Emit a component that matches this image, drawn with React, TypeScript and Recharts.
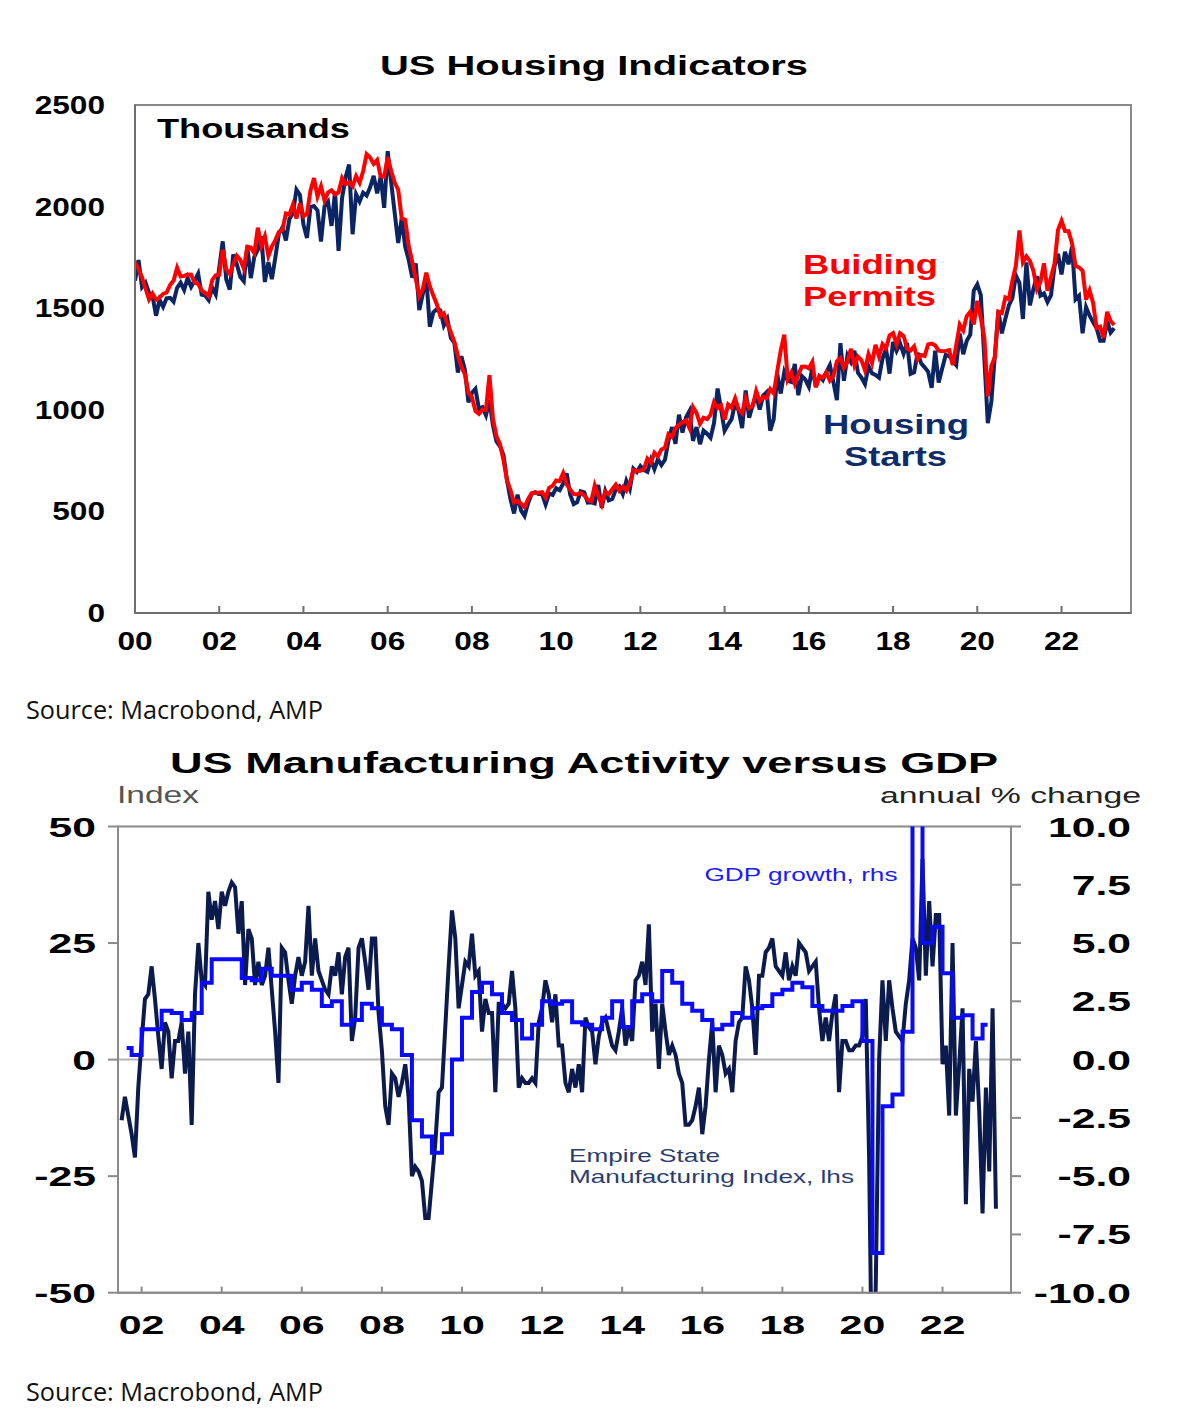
import React from "react";
import { LineChart, Line, XAxis, YAxis, ReferenceArea, ReferenceLine } from "recharts";

// ---- US Housing Indicators (monthly, Jan 2000 - Apr 2023, thousands) ----
const housingStart = 2000;
const housingStarts = [
  1636, 1737, 1604, 1626, 1575, 1559, 1463, 1541, 1507, 1549, 1551, 1532,
  1600, 1625, 1590, 1649, 1605, 1636, 1670, 1567, 1562, 1540, 1602, 1568,
  1698, 1829, 1642, 1592, 1764, 1717, 1655, 1633, 1804, 1648, 1753, 1788,
  1853, 1629, 1726, 1643, 1751, 1867, 1897, 1833, 1939, 1967, 2083, 2057,
  1911, 1846, 1998, 2003, 1981, 1828, 2002, 2024, 1905, 2072, 1782, 2042,
  2144, 2207, 1864, 2061, 2025, 2068, 2054, 2095, 2151, 2065, 2147, 1994,
  2273, 2119, 1969, 1821, 1942, 1802, 1737, 1650, 1720, 1491, 1570, 1649,
  1409, 1480, 1495, 1490, 1415, 1448, 1354, 1330, 1183, 1264, 1197, 1037,
  1084, 1103, 1005, 1013, 973, 1046, 923, 844, 820, 777, 652, 560,
  490, 582, 505, 478, 540, 585, 594, 586, 585, 534, 588, 581,
  614, 604, 636, 687, 583, 536, 546, 599, 594, 543, 545, 539,
  630, 517, 600, 554, 561, 608, 623, 585, 650, 610, 711, 694,
  723, 704, 695, 753, 708, 757, 728, 754, 847, 915, 833, 976,
  888, 962, 994, 847, 915, 831, 898, 883, 863, 936, 1105, 1003,
  897, 928, 954, 1034, 996, 910, 1095, 961, 1022, 1073, 1001, 1070,
  1087, 897, 954, 1177, 1080, 1185, 1142, 1137, 1226, 1072, 1166, 1149,
  1114, 1208, 1113, 1165, 1146, 1186, 1220, 1136, 1048, 1328, 1143, 1268,
  1236, 1290, 1182, 1158, 1127, 1215, 1180, 1172, 1158, 1252, 1299, 1178,
  1334, 1290, 1327, 1276, 1329, 1177, 1184, 1280, 1229, 1209, 1187, 1108,
  1291, 1134, 1203, 1270, 1265, 1241, 1220, 1375, 1274, 1340, 1370, 1587,
  1617, 1564, 1256, 934, 1038, 1265, 1487, 1376, 1448, 1514, 1551, 1661,
  1625, 1447, 1725, 1514, 1594, 1657, 1562, 1573, 1530, 1563, 1706, 1768,
  1666, 1777, 1716, 1803, 1543, 1561, 1377, 1505, 1463, 1432, 1401, 1340,
  1340, 1436, 1380, 1401,
];
const buildingPermits = [
  1727, 1692, 1651, 1597, 1543, 1572, 1542, 1552, 1570, 1577, 1614, 1636,
  1699, 1656, 1659, 1666, 1665, 1626, 1620, 1588, 1576, 1559, 1638, 1662,
  1665, 1787, 1691, 1669, 1716, 1758, 1738, 1695, 1803, 1799, 1771, 1896,
  1808, 1854, 1757, 1803, 1835, 1875, 1885, 1966, 1961, 2010, 1941, 2016,
  1953, 1963, 2080, 2140, 2050, 2100, 2030, 2070, 2080, 2060, 2070, 2140,
  2110, 2120, 2100, 2150, 2117, 2174, 2258, 2242, 2211, 2230, 2149, 2147,
  2243, 2175, 2118, 2082, 1942, 1935, 1805, 1729, 1644, 1559, 1594, 1675,
  1608, 1562, 1520, 1462, 1474, 1423, 1381, 1334, 1266, 1212, 1175, 1084,
  1062, 995, 980, 1001, 1000, 1171, 955, 869, 831, 752, 653, 604,
  544, 552, 538, 521, 560, 589, 593, 592, 595, 568, 616, 626,
  652, 649, 688, 633, 608, 586, 583, 591, 579, 557, 550, 627,
  578, 534, 597, 585, 609, 632, 601, 621, 602, 640, 703, 698,
  700, 708, 759, 739, 789, 771, 805, 813, 880, 867, 910, 926,
  939, 948, 910, 1013, 985, 931, 961, 954, 975, 1038, 1009, 1022,
  952, 1026, 1010, 1056, 1001, 983, 1057, 1008, 1018, 1093, 1043, 1063,
  1058, 1102, 1081, 1190, 1292, 1370, 1150, 1183, 1128, 1173, 1212, 1213,
  1204, 1236, 1111, 1166, 1158, 1184, 1144, 1167, 1239, 1255, 1207, 1236,
  1300, 1219, 1262, 1244, 1194, 1274, 1230, 1320, 1262, 1323, 1303, 1366,
  1377, 1323, 1377, 1364, 1301, 1292, 1312, 1249, 1270, 1265, 1322, 1326,
  1317, 1291, 1288, 1290, 1294, 1220, 1317, 1419, 1391, 1461, 1482, 1420,
  1536, 1452, 1356, 1066, 1216, 1258, 1483, 1476, 1553, 1545, 1635, 1709,
  1883, 1726, 1755, 1733, 1683, 1594, 1630, 1721, 1586, 1653, 1717, 1885,
  1930, 1880, 1879, 1819, 1708, 1701, 1685, 1542, 1588, 1526, 1402, 1409,
  1354, 1482, 1437, 1417,
];
const housingXTicks = [2000, 2002, 2004, 2006, 2008, 2010, 2012, 2014, 2016, 2018, 2020, 2022];
const housingYTicks = [0, 500, 1000, 1500, 2000, 2500];

// ---- US Manufacturing Activity versus GDP ----
// Empire State index, monthly from Jul 2001 to May 2023
const empireStart = 2001.5;
const empireIndex = [
  -13, -8, -12, -16, -21, -6,
  4, 13, 14, 20, 13, 5, -2, 8, 6, -4, 4, 4,
  8, -3, 6, -14, 14, 25, 17, 16, 36, 30, 34, 28,
  36, 33, 36, 38, 37, 27, 34, 16, 28, 26, 16, 21,
  16, 18, 24, 15, 6, -5, 24, 23, 17, 12, 18, 22,
  18, 21, 33, 18, 26, 19, 17, 15, 14, 20, 18, 23,
  14, 22, 24, 4, 9, 24, 26, 21, 15, 26, 26, 10,
  2, -10, -14, -3, -4, -8, -5, -1, -8, -25, -23, -24,
  -26, -34, -34, -26, -18, -7, -6, 7, 20, 32, 26, 11,
  16, 21, 20, 27, 18, 19, 6, 13, 10, 10, -7, 12,
  12, 11, 12, 19, 11, -6, -4, -5, -5, -4, -5, 8,
  11, 17, 14, 8, 14, 3, 3, -5, -7, -2, -6, -1,
  -7, 9, 7, 6, -1, 5, 8, 9, 6, 3, 2, 6,
  11, 3, 7, 4, 17, 18, 21, 16, 29, 6, 12, -2,
  12, 6, 1, 3, 1, -3, -5, -14, -14, -13, -10, -6,
  -16, -10, 0, 8, -7, 3, 1, -3, -2, -7, 4, 8,
  9, 20, 17, 11, 1, 18, 18, 23, 24, 26, 20, 19,
  18, 23, 17, 20, 18, 25, 24, 23, 19, 20, 21, 11,
  4, 9, 4, 10, 14, -7, 4, 4, 2, 2, 3, 3,
  5, 13, -21, -78, -48, 0, 17, 4, 17, 11, 6, 5,
  4, 12, 17, 26, 24, 17, 43, 18, 34, 20, 31, 31,
  -1, 3, -12, 25, -12, -1, 11, -31, -2, -9, 4, -11,
  -33, -6, -24, 11, -32,
];
// Real GDP, annual % change, quarterly from 2001 Q3 to 2023 Q1
const gdpStart = 2001.5;
const gdpGrowth = [
  0.5, 0.2,
  1.3, 1.3, 2.1, 2.0,
  1.7, 2.0, 3.3, 4.3,
  4.3, 4.3, 3.5, 3.4,
  3.9, 3.6, 3.6, 3.0,
  3.3, 3.0, 2.3, 2.5,
  1.5, 1.7, 2.4, 2.2,
  1.5, 1.3, 0.2, -2.6,
  -3.3, -4.0, -3.2, 0.0,
  1.8, 2.9, 3.3, 2.8,
  2.0, 1.7, 0.9, 1.5,
  2.5, 2.4, 2.5, 1.6,
  1.5, 1.3, 1.8, 2.5,
  1.4, 2.5, 2.8, 2.5,
  3.8, 3.3, 2.4, 2.1,
  1.7, 1.3, 1.5, 2.0,
  1.8, 2.2, 2.3, 2.8,
  3.0, 3.3, 3.1, 2.3,
  2.1, 2.1, 2.3, 2.5,
  0.8, -8.3, -2.0, -1.5,
  1.2, 12.0, 5.0, 5.7,
  3.7, 1.8, 1.9, 0.9,
  1.5,
];
const mfgXTicks = [2002, 2004, 2006, 2008, 2010, 2012, 2014, 2016, 2018, 2020, 2022];
const mfgLeftTicks = [-50, -25, 0, 25, 50];
const mfgRightTicks = [-10, -7.5, -5, -2.5, 0, 2.5, 5, 7.5, 10];

const housingData = housingStarts.map((v, i) => ({
  t: housingStart + i / 12,
  starts: v,
  permits: buildingPermits[i],
}));
const empireData = empireIndex.map((v, i) => ({ t: empireStart + i / 12, v }));
const gdpData = gdpGrowth.map((v, i) => ({ t: gdpStart + i * 0.25 + 0.125, v }));

const yearLabel = (t: number) => String(t % 100).padStart(2, "0");
const tickFont = "'Liberation Sans', Arial, sans-serif";
const frame = "#8a8a8a";

function Stretched({ x, y, text, size, sx, anchor }: any) {
  return (
    <text
      transform={`translate(${x},${y}) scale(${sx},1)`}
      textAnchor={anchor}
      fontFamily={tickFont}
      fontWeight="bold"
      fontSize={size}
      fill="#000"
    >
      {text}
    </text>
  );
}

const HousingYTick = (p: any) => (
  <Stretched x={p.x} y={p.y + 9} text={p.payload.value} size={25.5} sx={1.24} anchor="end" />
);
const HousingXTick = (p: any) => (
  <g>
    <line x1={p.x} x2={p.x} y1={p.y} y2={p.y - 7} stroke="#6e6e6e" strokeWidth={2} />
    <Stretched x={p.x} y={p.y + 37} text={yearLabel(p.payload.value)} size={25.5} sx={1.24} anchor="middle" />
  </g>
);
const MfgXTick = (p: any) => (
  <g>
    <line x1={p.x} x2={p.x} y1={p.y} y2={p.y - 6} stroke={frame} strokeWidth={2} />
    <Stretched x={p.x} y={p.y + 41} text={yearLabel(p.payload.value)} size={26.5} sx={1.55} anchor="middle" />
  </g>
);
const MfgLeftTick = (p: any) => (
  <Stretched x={p.x} y={p.y + 10} text={p.payload.value} size={27} sx={1.58} anchor="end" />
);
const MfgRightTick = (p: any) => (
  <Stretched x={p.x + 110} y={p.y + 10} text={Number(p.payload.value).toFixed(1)} size={27} sx={1.58} anchor="end" />
);

const labels = [
  { text: "US Housing Indicators", x: 380, y: 75, len: 428, size: 28, bold: true, fill: "#000" },
  { text: "Thousands", x: 157, y: 138, len: 193, size: 28, bold: true, fill: "#000" },
  { text: "Buiding", x: 803, y: 274, len: 135, size: 28, bold: true, fill: "#ff0000" },
  { text: "Permits", x: 803, y: 306, len: 133, size: 28, bold: true, fill: "#ff0000" },
  { text: "Housing", x: 823, y: 434, len: 146, size: 28, bold: true, fill: "#0f2b6b" },
  { text: "Starts", x: 844, y: 466, len: 103, size: 28, bold: true, fill: "#0f2b6b" },
  { text: "US Manufacturing Activity versus GDP", x: 170, y: 773, len: 828, size: 30, bold: true, fill: "#000" },
  { text: "Index", x: 117, y: 802.5, len: 82, size: 24.5, bold: false, fill: "#555" },
  { text: "annual % change", x: 880, y: 802.5, len: 261, size: 22.5, bold: false, fill: "#222" },
  { text: "GDP growth, rhs", x: 704.5, y: 880.5, len: 193, size: 17.5, bold: false, fill: "#1a1aff" },
  { text: "Empire State", x: 569, y: 1161.5, len: 151, size: 18.5, bold: false, fill: "#2a3d6e" },
  { text: "Manufacturing Index, lhs", x: 569, y: 1183, len: 285, size: 18.5, bold: false, fill: "#2a3d6e" },
];
const sources = [
  { x: 26, y: 719 },
  { x: 26, y: 1400.5 },
];

export default function App() {
  return (
    <div style={{ position: "absolute", left: 0, top: 0, width: 1185, height: 1421, background: "#fff" }}>
      <div style={{ position: "absolute", left: 0, top: 0 }}>
        <LineChart width={1185} height={680} data={housingData} margin={{ top: 105, right: 54, bottom: 7, left: 35 }}>
          <XAxis
            dataKey="t"
            type="number"
            domain={[2000, 2023.65]}
            ticks={housingXTicks}
            interval={0}
            height={60}
            axisLine={{ stroke: "#6e6e6e", strokeWidth: 2 }}
            tickLine={false}
            tickSize={0}
            tickMargin={0}
            tick={<HousingXTick />}
            allowDataOverflow
          />
          <YAxis
            type="number"
            domain={[0, 2500]}
            ticks={housingYTicks}
            interval={0}
            width={100}
            axisLine={{ stroke: "#6e6e6e", strokeWidth: 2 }}
            tickLine={false}
            tickSize={0}
            tickMargin={30}
            tick={<HousingYTick />}
          />
          <ReferenceArea x1={2000} x2={2023.65} y1={0} y2={2500} fill="none" stroke={frame} strokeWidth={2} />
          <Line
            dataKey="starts"
            type="linear"
            stroke="#0b2463"
            strokeWidth={4}
            dot={false}
            isAnimationActive={false}
          />
          <Line
            dataKey="permits"
            type="linear"
            stroke="#ff0000"
            strokeWidth={4}
            dot={false}
            isAnimationActive={false}
          />
        </LineChart>
      </div>

      <div style={{ position: "absolute", left: 0, top: 740 }}>
        <LineChart width={1185} height={640} margin={{ top: 86.5, right: 54, bottom: 27.3, left: 18 }}>
          <XAxis
            dataKey="t"
            type="number"
            domain={[2001.41, 2023.71]}
            ticks={mfgXTicks}
            interval={0}
            height={60}
            axisLine={{ stroke: frame, strokeWidth: 2 }}
            tickLine={false}
            tickSize={0}
            tickMargin={0}
            tick={<MfgXTick />}
            allowDataOverflow
          />
          <YAxis
            yAxisId="l"
            type="number"
            domain={[-50, 50]}
            ticks={mfgLeftTicks}
            interval={0}
            width={100}
            axisLine={{ stroke: frame, strokeWidth: 2 }}
            tickLine={{ stroke: frame, strokeWidth: 2 }}
            tickSize={10}
            tickMargin={12}
            tick={<MfgLeftTick />}
            allowDataOverflow
          />
          <YAxis
            yAxisId="r"
            orientation="right"
            type="number"
            domain={[-10, 10]}
            ticks={mfgRightTicks}
            interval={0}
            width={120}
            axisLine={{ stroke: frame, strokeWidth: 2 }}
            tickLine={{ stroke: frame, strokeWidth: 2 }}
            tickSize={10}
            tickMargin={0}
            tick={<MfgRightTick />}
            allowDataOverflow
          />
          <ReferenceArea yAxisId="l" x1={2001.41} x2={2023.71} y1={-50} y2={50} fill="none" stroke={frame} strokeWidth={2} />
          <ReferenceLine yAxisId="l" y={0} stroke="#b4b4b4" strokeWidth={2} />
          <Line
            yAxisId="l"
            data={empireData}
            dataKey="v"
            type="linear"
            stroke="#0c1b4d"
            strokeWidth={4}
            dot={false}
            isAnimationActive={false}
          />
          <Line
            yAxisId="r"
            data={gdpData}
            dataKey="v"
            type="step"
            stroke="#0a0aff"
            strokeWidth={4}
            dot={false}
            isAnimationActive={false}
          />
        </LineChart>
      </div>

      <svg width={1185} height={1421} style={{ position: "absolute", left: 0, top: 0, pointerEvents: "none" }}>
        {labels.map((l) => (
          <text
            key={l.text}
            x={l.x}
            y={l.y}
            textLength={l.len}
            lengthAdjust="spacingAndGlyphs"
            fontFamily={tickFont}
            fontWeight={l.bold ? "bold" : "normal"}
            fontSize={l.size}
            fill={l.fill}
          >
            {l.text}
          </text>
        ))}
        {sources.map((s, i) => (
          <text
            key={i}
            x={s.x}
            y={s.y}
            textLength={297}
            lengthAdjust="spacingAndGlyphs"
            fontFamily="'Open Sans', 'Noto Sans', sans-serif"
            fontSize={25}
            fill="#111"
          >
            Source: Macrobond, AMP
          </text>
        ))}
      </svg>
    </div>
  );
}
